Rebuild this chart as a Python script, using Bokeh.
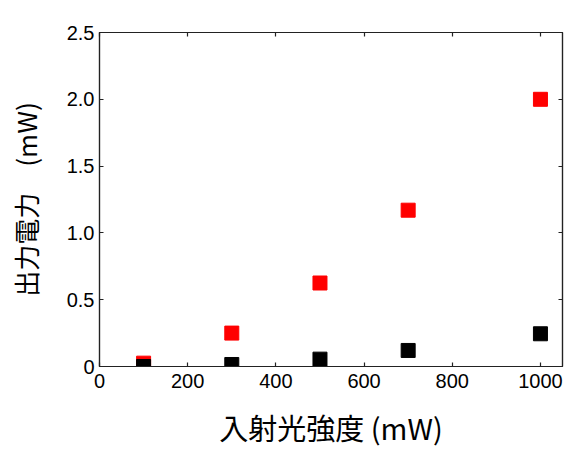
from bokeh.plotting import figure
from bokeh.models import LinearAxis, FixedTicker, PrintfTickFormatter, Range1d
from bokeh.embed import file_html
from bokeh.resources import INLINE

# data
incident = [100, 300, 500, 700, 1000]
series_red = [0.025, 0.25, 0.625, 1.17, 2.0]
series_black = [0.0, 0.015, 0.055, 0.12, 0.245]
x_ticks = [0, 200, 400, 600, 800, 1000]
y_ticks = [0, 0.5, 1.0, 1.5, 2.0, 2.5]
x_label = "入射光強度 (mW)"
y_label = "出力電力　(mW)"

p = figure(width=576, height=454, output_backend="svg", toolbar_location=None,
           x_range=Range1d(0, 1050), y_range=Range1d(0, 2.5),
           min_border_left=99, min_border_right=14, min_border_top=32, min_border_bottom=88)
p.grid.visible = False
p.outline_line_color = "#222222"
p.outline_line_width = 1.2
p.background_fill_color = "white"
p.border_fill_color = "white"

p.scatter(incident, series_red, marker="square", size=14, fill_color="#ff0000", line_color="#ff0000")
p.scatter(incident, series_black, marker="square", size=14, fill_color="#000000", line_color="#000000")

bottom = p.xaxis[0]
left = p.yaxis[0]

bottom.ticker = FixedTicker(ticks=x_ticks)
bottom.axis_label = x_label
bottom.axis_label_text_font = "Noto Sans CJK JP"
bottom.axis_label_text_font_size = "29px"
bottom.axis_label_text_font_style = "normal"
bottom.axis_label_text_color = "black"
bottom.axis_label_standoff = 15
bottom.major_label_standoff = 7

left.ticker = FixedTicker(ticks=y_ticks)
left.formatter = PrintfTickFormatter(format="%.1f")
left.major_label_overrides = {0: "0"}
left.axis_label = y_label
left.axis_label_text_font = "Noto Sans CJK JP"
left.axis_label_text_font_size = "26px"
left.axis_label_text_font_style = "normal"
left.axis_label_text_color = "black"
left.axis_label_standoff = 20
left.major_label_standoff = 5

top = LinearAxis(ticker=FixedTicker(ticks=x_ticks),
                 major_label_overrides={t: "" for t in x_ticks})
right = LinearAxis(ticker=FixedTicker(ticks=y_ticks),
                   major_label_overrides={t: "" for t in y_ticks})
p.add_layout(top, "above")
p.add_layout(right, "right")

for ax in [bottom, left, top, right]:
    ax.major_tick_in = 4
    ax.major_tick_out = 0
    ax.minor_tick_in = 0
    ax.minor_tick_out = 0
    ax.axis_line_color = "#222222"
    ax.axis_line_width = 1.2
    ax.major_tick_line_color = "#222222"
    ax.major_tick_line_width = 1.2
    ax.major_label_text_font = "Liberation Sans"
    ax.major_label_text_font_size = "20px"
    ax.major_label_text_color = "black"

for ax in [top, right]:
    ax.major_label_standoff = 0

open("out.html", "w").write(file_html(p, INLINE))
